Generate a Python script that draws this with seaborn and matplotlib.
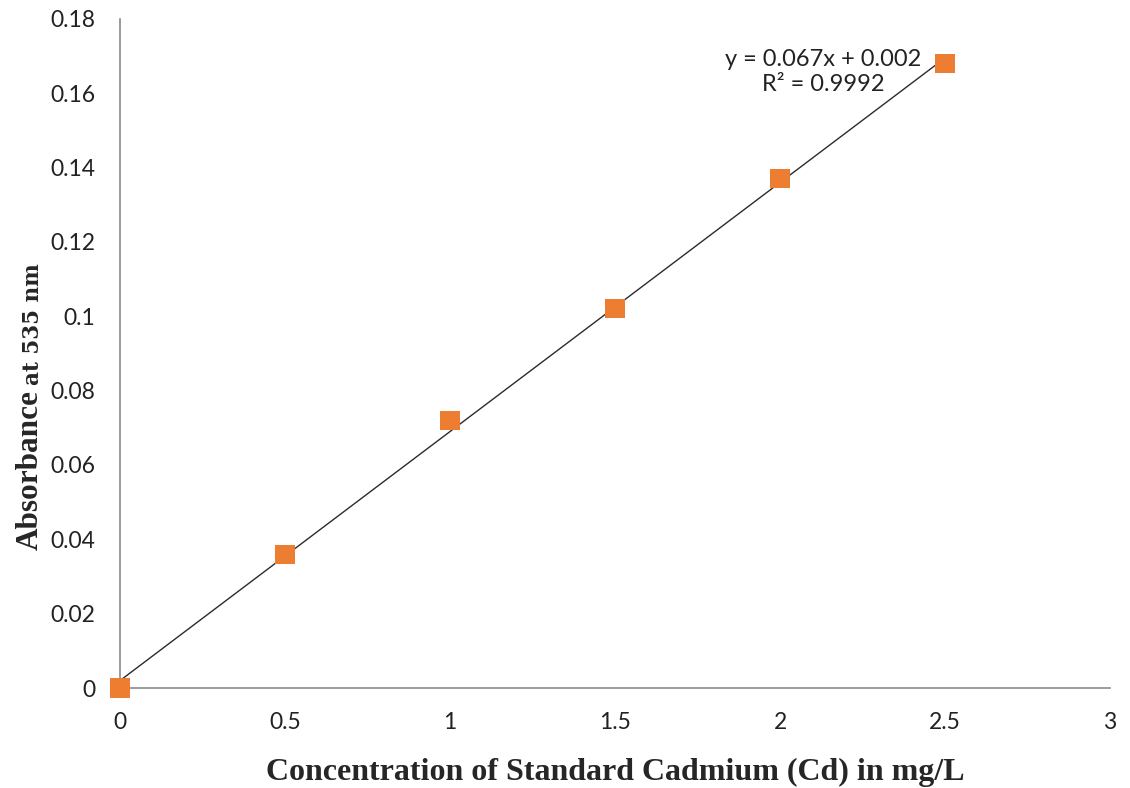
import matplotlib
matplotlib.use("Agg")
import matplotlib.pyplot as plt
import seaborn as sns
import pandas as pd

# Calibration standards: cadmium concentration vs absorbance
concentration = [0, 0.5, 1.0, 1.5, 2.0, 2.5]
absorbance = [0.0, 0.036, 0.072, 0.102, 0.137, 0.168]

# Linear trendline reported for the standards
slope = 0.067
intercept = 0.002
r_squared = 0.9992

x_ticks = [0, 0.5, 1, 1.5, 2, 2.5, 3]
x_tick_labels = ["0", "0.5", "1", "1.5", "2", "2.5", "3"]
y_ticks = [0, 0.02, 0.04, 0.06, 0.08, 0.1, 0.12, 0.14, 0.16, 0.18]
y_tick_labels = ["0", "0.02", "0.04", "0.06", "0.08", "0.1", "0.12", "0.14", "0.16", "0.18"]

df = pd.DataFrame({"conc": concentration, "abs": absorbance})
fit_x = [min(concentration), max(concentration)]
fit = pd.DataFrame({"conc": fit_x, "abs": [slope * v + intercept for v in fit_x]})

sns.set_theme(style="white")
plt.rcParams["font.family"] = ["Lato", "DejaVu Sans"]

fig = plt.figure(figsize=(11.3, 7.88), dpi=100)
ax = fig.add_axes([0.1062, 0.1269, 0.8761, 0.849])

sns.lineplot(data=fit, x="conc", y="abs", ax=ax, color="#2b2b2b", linewidth=1.0, zorder=2)
sns.scatterplot(data=df, x="conc", y="abs", ax=ax, marker="s", s=190,
                color="#ED7D31", edgecolor="none", zorder=3, clip_on=False)

ax.set_xlim(0, 3)
ax.set_ylim(0, 0.18)
ax.set_xticks(x_ticks)
ax.set_xticklabels(x_tick_labels)
ax.set_yticks(y_ticks)
ax.set_yticklabels(y_tick_labels)
ax.tick_params(axis="both", length=0, labelsize=16.5, colors="#222222")
ax.tick_params(axis="x", pad=17)
ax.tick_params(axis="y", pad=18)

for side in ["top", "right"]:
    ax.spines[side].set_visible(False)
for side in ["left", "bottom"]:
    ax.spines[side].set_color("#8a8a8a")
    ax.spines[side].set_linewidth(1.2)

ax.set_xlabel("Concentration of Standard Cadmium (Cd) in mg/L",
              family="Liberation Serif", fontweight="bold", fontsize=23, labelpad=18)
ax.set_ylabel("")

# Two-part y-axis title
t1 = fig.text(0.027, 0.302, "Absorbance", rotation=90, ha="center", va="bottom",
              family="Liberation Serif", fontweight="bold", fontsize=22.5)
ax.annotate("at 535 nm", xy=(0.6, 1.0), xycoords=t1, xytext=(0, 4),
            textcoords="offset points", rotation=90, ha="center", va="bottom",
            family="DejaVu Serif", fontweight="bold", fontsize=15.5)

ax.text(2.13, 0.1657, f"y = {slope}x + {intercept}\nR² = {r_squared}",
        ha="center", va="center", fontsize=17, color="#222222", linespacing=1.25)

fig.savefig("out.png", dpi=100, facecolor="white")
